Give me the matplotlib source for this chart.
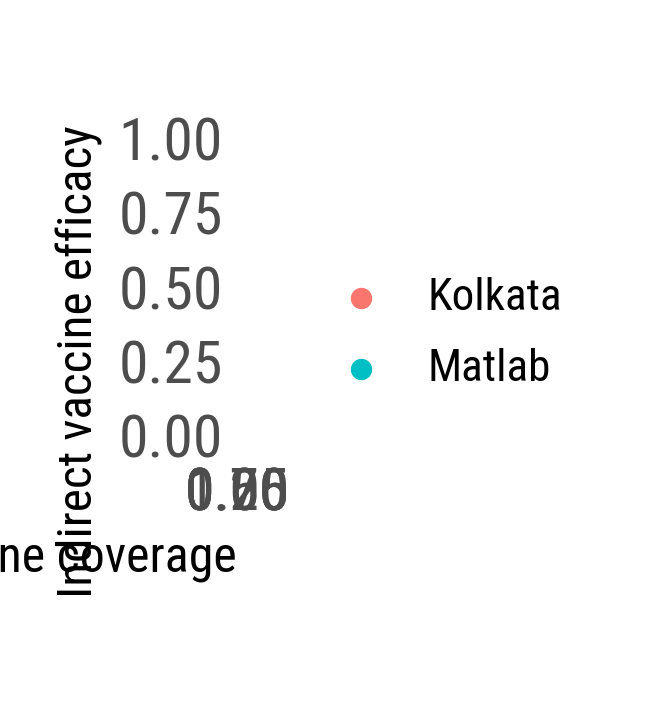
import matplotlib
matplotlib.use("Agg")
import matplotlib.pyplot as plt
from matplotlib import font_manager
from matplotlib.path import Path

# Police : Roboto Condensed si elle existe, sinon Roboto
noms = {f.name for f in font_manager.fontManager.ttflist}
police = "Roboto Condensed" if "Roboto Condensed" in noms else "Roboto"
plt.rcParams["font.family"] = [police, "DejaVu Sans"]

# Données (panneau de largeur nulle : aucun point n'est visible)
sites = ["Kolkata", "Matlab"]
couleurs = ["#F8766D", "#00BFC4"]
couverture_kolkata = [0.25, 0.30, 0.35, 0.45, 0.55]
efficacite_kolkata = [0.10, 0.20, 0.30, 0.40, 0.55]
couverture_matlab = [0.28, 0.33, 0.38, 0.45, 0.55]
efficacite_matlab = [0.05, 0.15, 0.30, 0.35, 0.75]

ticks = [0.00, 0.25, 0.50, 0.75, 1.00]
tick_labels = ["0.00", "0.25", "0.50", "0.75", "1.00"]

W, H = 652, 710
fig = plt.figure(figsize=(W / 100, H / 100), dpi=100)

# Panneau : x = 237 px, y de 123 à 450 px (depuis le haut)
ax = fig.add_axes([237 / W, 1 - 450 / H, 0.0, (450 - 123) / H])
sc1 = ax.scatter(couverture_kolkata, efficacite_kolkata, s=207, color=couleurs[0], label=sites[0])
sc2 = ax.scatter(couverture_matlab, efficacite_matlab, s=207, color=couleurs[1], label=sites[1])
# découpage au panneau (largeur nulle) par un chemin, pas une boîte
cadre = Path([[0, 0], [0, 1], [1, 1], [1, 0], [0, 0]])
for sc in (sc1, sc2):
    sc.set_clip_path(cadre, ax.transAxes)
ax.set_xlim(-0.05, 1.05)
ax.set_ylim(-0.05, 1.05)
ax.set_xticks(ticks)
ax.set_xticklabels(tick_labels)
ax.set_yticks(ticks)
ax.set_yticklabels(tick_labels)
ax.tick_params(axis="both", length=0, labelsize=43, labelcolor="#4D4D4D", pad=10)
ax.tick_params(axis="x", pad=11.5)
for s in ax.spines.values():
    s.set_visible(False)
ax.set_facecolor("none")

# Titres des axes (hjust = 1)
fig.text(237 / W, 1 - 571 / H, "Vaccine coverage", ha="right", va="baseline",
         fontsize=36, color="black")
fig.text(79 / W, 1 - 125 / H, "Indirect vaccine efficacy", rotation=90,
         ha="center", va="top", fontsize=35.4, color="black")

# Légende
handles, labels = ax.get_legend_handles_labels()
fig.legend(handles, labels, loc="center left", bbox_to_anchor=(338.5 / W, 1 - 333.5 / H),
           frameon=False, fontsize=32.5, handlelength=1.0, handletextpad=0.97,
           labelspacing=0.63, borderpad=0, borderaxespad=0, markerscale=1.0)

fig.savefig("out.png", dpi=100)
